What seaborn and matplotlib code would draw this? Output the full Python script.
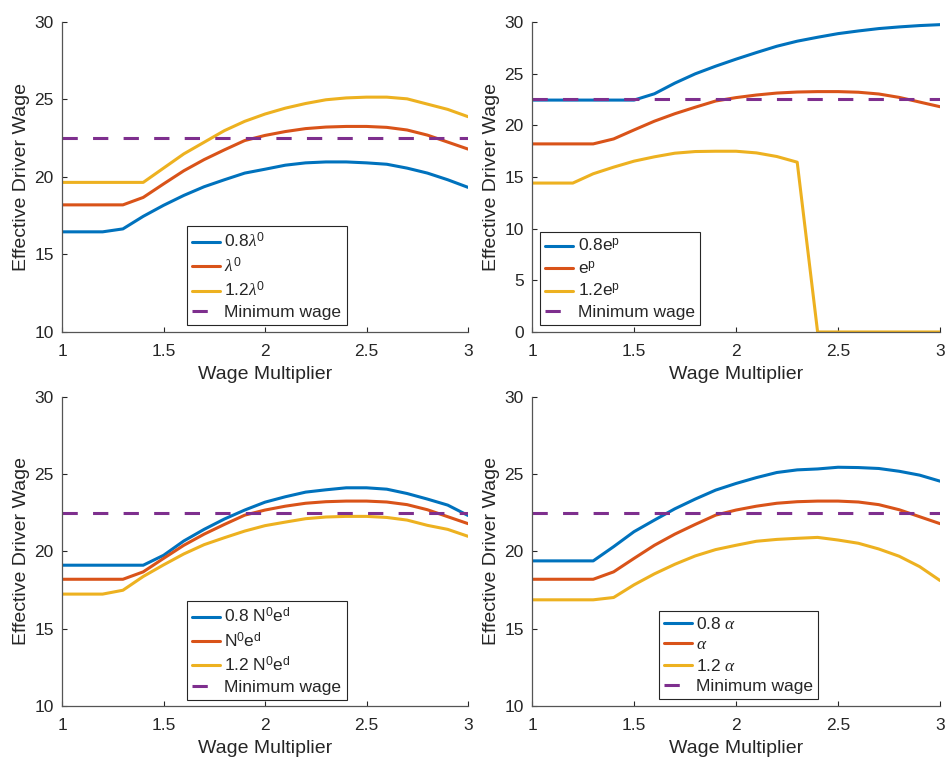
import numpy as np
import pandas as pd
import matplotlib
matplotlib.use('Agg')
import matplotlib.pyplot as plt
import seaborn as sns

sns.set_style('ticks')
plt.rcParams['font.family'] = ['Liberation Sans', 'DejaVu Sans']
plt.rcParams['mathtext.fontset'] = 'custom'
plt.rcParams['mathtext.rm'] = 'Liberation Sans'
plt.rcParams['mathtext.sf'] = 'Liberation Sans'
plt.rcParams['mathtext.it'] = 'Liberation Serif:italic'
plt.rcParams['mathtext.bf'] = 'Liberation Sans:bold'

# --- Data ---
multiplier = [1.0, 1.1, 1.2, 1.3, 1.4, 1.5, 1.6, 1.7, 1.8, 1.9, 2.0,
              2.1, 2.2, 2.3, 2.4, 2.5, 2.6, 2.7, 2.8, 2.9, 3.0]
min_wage = 22.5

# base case (same in every panel)
base = [18.2, 18.2, 18.2, 18.2, 18.68, 19.55, 20.4, 21.12, 21.75, 22.35, 22.68,
        22.93, 23.12, 23.22, 23.26, 23.26, 23.2, 23.03, 22.7, 22.25, 21.8]

# panel 1: lambda^0
lam_08 = [16.46, 16.46, 16.46, 16.65, 17.46, 18.17, 18.81, 19.37, 19.82, 20.25, 20.5,
          20.76, 20.91, 20.97, 20.97, 20.91, 20.82, 20.57, 20.25, 19.82, 19.33]
lam_12 = [19.65, 19.65, 19.65, 19.65, 19.65, 20.57, 21.49, 22.24, 22.99, 23.59, 24.06,
          24.44, 24.74, 24.98, 25.1, 25.15, 25.15, 25.04, 24.7, 24.36, 23.89]

# panel 2: e^p
ep_08 = [22.44, 22.44, 22.44, 22.44, 22.44, 22.44, 23.05, 24.08, 24.98, 25.72, 26.4,
         27.04, 27.65, 28.14, 28.52, 28.87, 29.13, 29.36, 29.52, 29.65, 29.74]
ep_12 = [14.41, 14.41, 14.41, 15.31, 15.95, 16.53, 16.95, 17.3, 17.46, 17.49, 17.49,
         17.33, 16.98, 16.43, 0, 0, 0, 0, 0, 0, 0]

# panel 3: N^0 e^d
ned_08 = [19.11, 19.11, 19.11, 19.11, 19.11, 19.75, 20.68, 21.43, 22.1, 22.68, 23.19,
          23.54, 23.84, 23.99, 24.12, 24.12, 24.03, 23.75, 23.39, 23.0, 22.33]
ned_12 = [17.24, 17.24, 17.24, 17.49, 18.38, 19.13, 19.84, 20.44, 20.89, 21.32, 21.67,
          21.9, 22.12, 22.23, 22.27, 22.27, 22.2, 22.03, 21.69, 21.43, 20.98]

# panel 4: alpha
alpha_08 = [19.39, 19.39, 19.39, 19.39, 20.31, 21.28, 22.03, 22.76, 23.39, 23.97, 24.4,
            24.78, 25.11, 25.28, 25.34, 25.45, 25.43, 25.37, 25.19, 24.94, 24.55]
alpha_12 = [16.87, 16.87, 16.87, 16.87, 17.02, 17.84, 18.55, 19.17, 19.71, 20.12, 20.4,
            20.66, 20.78, 20.85, 20.91, 20.74, 20.53, 20.16, 19.69, 19.02, 18.12]

labels_lam = [r'0.8$\lambda^0$', r'$\lambda^0$', r'1.2$\lambda^0$']
labels_ep = [r'0.8e$^\mathrm{p}$', r'e$^\mathrm{p}$', r'1.2e$^\mathrm{p}$']
labels_ned = [r'0.8 N$^0$e$^\mathrm{d}$', r'N$^0$e$^\mathrm{d}$', r'1.2 N$^0$e$^\mathrm{d}$']
labels_alpha = [r'0.8 $\alpha$', r'$\alpha$', r'1.2 $\alpha$']

colors = ['#0072BD', '#D95319', '#EDB120']
purple = '#7E2F8E'

panels = [
    (labels_lam, [lam_08, base, lam_12], (10, 30), (0.308, 0.022)),
    (labels_ep, [ep_08, base, ep_12], (0, 30), (0.02, 0.022)),
    (labels_ned, [ned_08, base, ned_12], (10, 30), (0.308, 0.019)),
    (labels_alpha, [alpha_08, base, alpha_12], (10, 30), (0.311, 0.022)),
]

fig = plt.figure(figsize=(9.47, 7.6), dpi=100)
positions = [
    [0.0655, 0.5632, 0.4287, 0.4079],
    [0.5618, 0.5632, 0.4308, 0.4079],
    [0.0655, 0.0711, 0.4287, 0.4066],
    [0.5618, 0.0711, 0.4308, 0.4066],
]

for pos, (labels, series, ylim, leg_pos) in zip(positions, panels):
    ax = fig.add_axes(pos)
    df = pd.DataFrame({
        'multiplier': multiplier * 3,
        'wage': series[0] + series[1] + series[2],
        'case': [labels[0]] * 21 + [labels[1]] * 21 + [labels[2]] * 21,
    })
    sns.lineplot(data=df, x='multiplier', y='wage', hue='case', hue_order=labels,
                 palette=colors, linewidth=2.2, ax=ax)
    ax.axhline(min_wage, color=purple, linewidth=2.2, dashes=(5, 5), label='Minimum wage')

    ax.set_xlim(1, 3)
    ax.set_ylim(*ylim)
    ax.set_xticks([1, 1.5, 2, 2.5, 3])
    ax.set_xticklabels(['1', '1.5', '2', '2.5', '3'])
    ax.set_yticks(np.arange(ylim[0], ylim[1] + 1, 5))
    ax.set_xlabel('Wage Multiplier', fontsize=14, color='#262626', labelpad=5)
    ax.set_ylabel('Effective Driver Wage', fontsize=14, color='#262626', labelpad=3)
    ax.tick_params(direction='in', length=3.5, width=0.8, labelsize=12.5,
                   colors='#262626')
    ax.tick_params(axis='x', pad=9)
    ax.tick_params(axis='y', pad=6)
    sns.despine(ax=ax)
    for s in ['left', 'bottom']:
        ax.spines[s].set_color('#555555')
        ax.spines[s].set_linewidth(0.9)

    handles, labs = ax.get_legend_handles_labels()
    leg = ax.legend(handles, labs, loc='lower left', bbox_to_anchor=leg_pos,
                    fontsize=12.5, frameon=True, fancybox=False, framealpha=1,
                    edgecolor='#262626', handlelength=1.6, handletextpad=0.25,
                    borderpad=0.3, labelspacing=0.3, borderaxespad=0)
    leg.get_frame().set_linewidth(0.8)

fig.savefig('out.png', dpi=100)
